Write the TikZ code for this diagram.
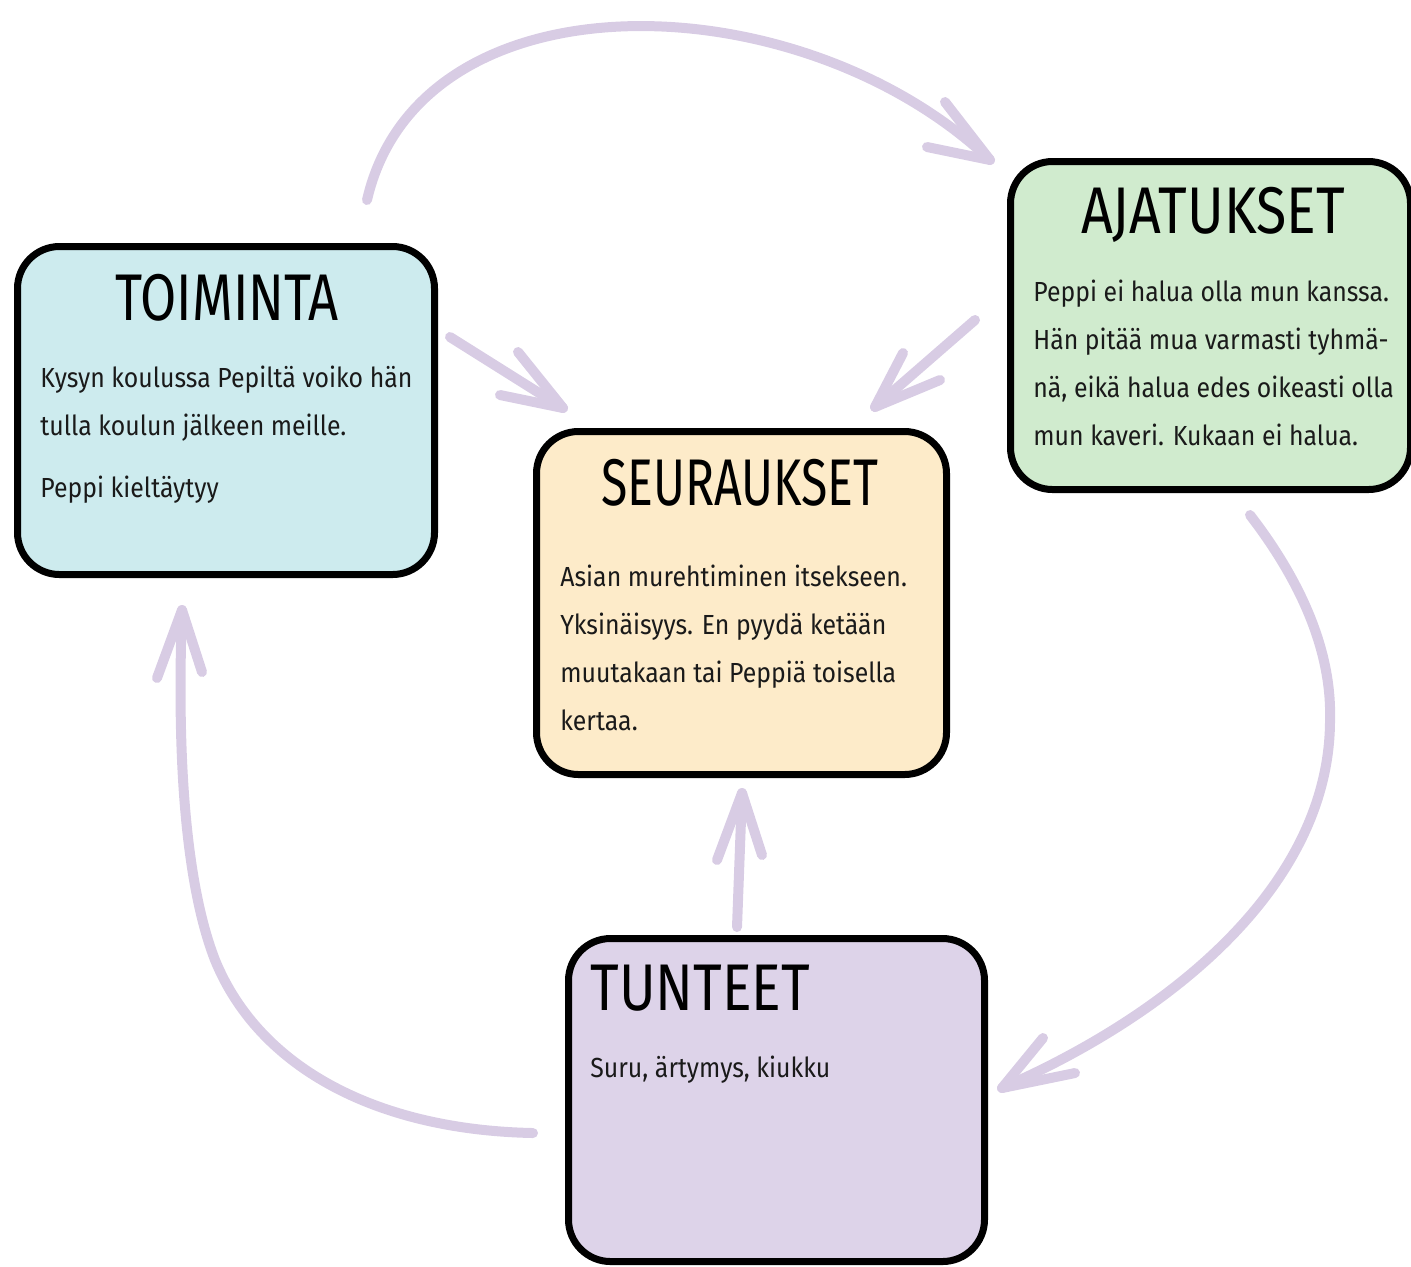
\documentclass[tikz,border=0pt]{standalone}
\usepackage{fontspec}
\usepackage{graphicx}
\setmainfont{Fira Sans}[FakeStretch=0.9]
\newfontfamily\titlefont{Fira Sans}[FakeStretch=0.75]
\definecolor{arrowc}{HTML}{D8CCE4}
\definecolor{toimc}{HTML}{CDEBEE}
\definecolor{seurc}{HTML}{FDEBC9}
\definecolor{ajatc}{HTML}{D0EBCE}
\definecolor{tuntc}{HTML}{DDD3E9}
\definecolor{txt}{HTML}{1A1A1A}
\tikzset{
  card/.style={draw=black, line width=3.5pt, rounded corners=21pt, inner sep=0pt, outer sep=0pt, anchor=north west, rectangle},
  ttl/.style={font=\titlefont\fontsize{33}{36}\selectfont, text=black, inner sep=0pt},
  body/.style={font=\fontsize{13.8}{24}\selectfont, text=txt, inner sep=0pt, align=left, anchor=base west},
  arr/.style={draw=arrowc, line width=5pt, line cap=round, line join=round},
}
\begin{document}
\begin{tikzpicture}[x=0.5pt,y=-0.5pt]
\path[use as bounding box] (0,0) rectangle (1411,1266);
\clip (0,0) rectangle (1411,1266);

% arrow coordinates
\coordinate (a1s) at (367,200);  \coordinate (a1t) at (990,160);
\coordinate (a1b1) at (945,102); \coordinate (a1b2) at (927,147);
\coordinate (a2s) at (450,337);  \coordinate (a2t) at (563,408);
\coordinate (a2b1) at (518,352); \coordinate (a2b2) at (500,395);
\coordinate (a3s) at (975,320);  \coordinate (a3t) at (875,407);
\coordinate (a3b1) at (903,353); \coordinate (a3b2) at (940,380);
\coordinate (a4s) at (1250,515); \coordinate (a4m) at (1330,720); \coordinate (a4t) at (1002,1088);
\coordinate (a4b1) at (1043,1038); \coordinate (a4b2) at (1075,1073);
\coordinate (a5s) at (533,1133); \coordinate (a5m) at (215,960); \coordinate (a5t) at (182,610);
\coordinate (a5b1) at (157,678); \coordinate (a5b2) at (202,672);
\coordinate (a6s) at (737,927);  \coordinate (a6t) at (742,793);
\coordinate (a6b1) at (717,860); \coordinate (a6b2) at (762,855);

% arrows
\draw[arr] (a1s) .. controls (420,-30) and (800,-20) .. (a1t);
\draw[arr] (a1b1) -- (a1t) -- (a1b2);
\draw[arr] (a2s) -- (a2t);
\draw[arr] (a2b1) -- (a2t) -- (a2b2);
\draw[arr] (a3s) -- (a3t);
\draw[arr] (a3b1) -- (a3t) -- (a3b2);
\draw[arr] (a4s) .. controls (1300,580) and (1332,650) .. (a4m) .. controls (1330,880) and (1180,1010) .. (a4t);
\draw[arr] (a4b1) -- (a4t) -- (a4b2);
\draw[arr] (a5s) .. controls (380,1130) and (260,1070) .. (a5m) .. controls (180,870) and (178,720) .. (a5t);
\draw[arr] (a5b1) -- (a5t) -- (a5b2);
\draw[arr] (a6s) -- (a6t);
\draw[arr] (a6b1) -- (a6t) -- (a6b2);

% cards
\node[card, fill=toimc, minimum width=208.5pt, minimum height=164pt] (toim) at (17.5,246.5) {};
\node[card, fill=seurc, minimum width=205pt, minimum height=171.5pt] (seur) at (536.5,431.5) {};
\node[card, fill=ajatc, minimum width=200pt, minimum height=164pt] (ajat) at (1010.5,161.5) {};
\node[card, fill=tuntc, minimum width=208pt, minimum height=161.5pt] (tunt) at (568.5,938.5) {};

% titles
\node[ttl, anchor=base] (toimT) at (227,320) {\scalebox{1.06}[1]{TOIMINTA}};
\node[ttl, anchor=base] (seurT) at (740,505) {\scalebox{0.975}[1]{SEURAUKSET}};
\node[ttl, anchor=base] (ajatT) at (1213,233) {\scalebox{1.12}[1]{AJATUKSET}};
\node[ttl, anchor=base west] (tuntT) at (590,1010) {\scalebox{1.12}[1]{TUNTEET}};

% bodies (anchored at the baseline of the last line)
\node[body] (toimB) at (40,497) {Kysyn koulussa Pepiltä voiko hän\\tulla koulun jälkeen meille.\\[7pt]Peppi kieltäytyy};
\node[body] (seurB) at (560,730) {Asian murehtiminen itsekseen.\\Yksinäisyys. En pyydä ketään\\muutakaan tai Peppiä toisella\\kertaa.};
\node[body] (ajatB) at (1033,445) {Peppi ei halua olla mun kanssa.\\Hän pitää mua varmasti tyhmä-\\nä, eikä halua edes oikeasti olla\\mun kaveri. Kukaan ei halua.};
\node[body] (tuntB) at (590,1077) {Suru, ärtymys, kiukku};
\end{tikzpicture}
\end{document}
